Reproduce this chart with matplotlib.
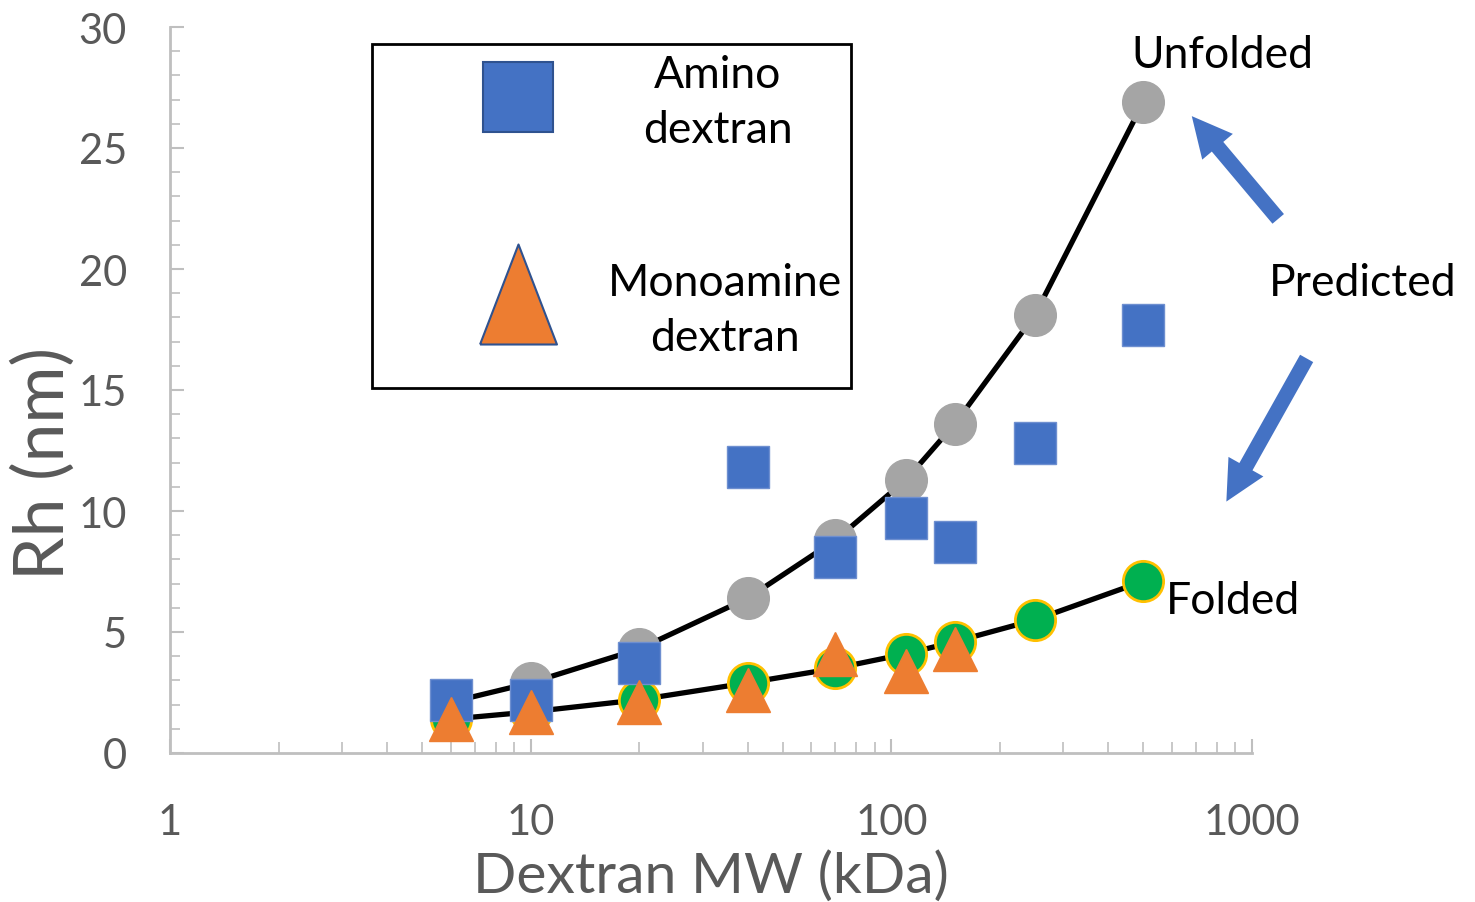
import numpy as np
import matplotlib
matplotlib.use("Agg")
import matplotlib.pyplot as plt
from matplotlib.patches import Rectangle, FancyArrowPatch

plt.rcParams['font.family'] = ['Lato', 'DejaVu Sans']

# Dextran molecular weights (kDa)
mw = [6, 10, 20, 40, 70, 110, 150, 250, 500]
# predicted hydrodynamic radius (nm)
rh_unfolded = [2.1, 2.9, 4.3, 6.4, 8.8, 11.3, 13.6, 18.1, 26.9]
rh_folded = [1.4, 1.7, 2.2, 2.9, 3.5, 4.1, 4.6, 5.5, 7.1]
# measured
mw_amino = [6, 10, 20, 40, 70, 110, 150, 250, 500]
rh_amino = [2.2, 2.2, 3.7, 11.8, 8.1, 9.7, 8.7, 12.8, 17.7]
mw_mono = [6, 10, 20, 40, 70, 110, 150]
rh_mono = [1.4, 1.7, 2.1, 2.6, 4.1, 3.4, 4.3]

xticks = [1, 10, 100, 1000]
xticklabels = ['1', '10', '100', '1000']
yticks = [0, 5, 10, 15, 20, 25, 30]

W, H = 1475, 903
fig = plt.figure(figsize=(W / 100, H / 100), dpi=100)
ax = fig.add_axes([170 / W, 1 - 754 / H, (1252 - 170) / W, (754 - 28) / H])

grey = '#A5A5A5'
green = '#00B050'
gold = '#FFC000'
blue = '#4472C4'
orange = '#ED7D31'
axcol = '#BFBFBF'
txtcol = '#595959'

ax.plot(mw, rh_unfolded, '-', color='black', lw=3.8, zorder=2)
ax.plot(mw, rh_folded, '-', color='black', lw=3.8, zorder=2)
ax.plot(mw, rh_unfolded, 'o', ms=30, color=grey, mec=grey, zorder=3)
ax.plot(mw, rh_folded, 'o', ms=29, color=green, mec=gold, mew=2, zorder=4)
ax.plot(mw_amino, rh_amino, 's', ms=30, color=blue, mec='#6E8FD0', mew=1, zorder=5)
ax.plot(mw_mono, rh_mono, '^', ms=31, color=orange, mec=orange, mew=1, zorder=6)

ax.set_xscale('log')
ax.set_xlim(1, 1000)
ax.set_ylim(0, 30)
ax.set_xticks(xticks)
ax.set_xticklabels(xticklabels)
ax.set_yticks(yticks)
ax.set_yticks(np.arange(0, 31, 1), minor=True)

for s in ['top', 'right']:
    ax.spines[s].set_visible(False)
for s in ['left', 'bottom']:
    ax.spines[s].set_color(axcol)
    ax.spines[s].set_linewidth(2)

ax.tick_params(axis='x', which='major', direction='in', length=10, width=1.5,
               color=axcol, labelsize=30, labelcolor=txtcol, pad=36)
ax.tick_params(axis='x', which='minor', direction='in', length=8, width=1.2,
               color=axcol, labelbottom=False)
ax.tick_params(axis='y', which='major', direction='in', length=10, width=1.5,
               color=axcol, labelsize=30, labelcolor=txtcol, pad=31)
ax.tick_params(axis='y', which='minor', direction='in', length=7, width=1.2,
               color=axcol)

ax.set_xlabel('Dextran MW (kDa)', fontsize=41, color=txtcol)
ax.xaxis.set_label_coords(0.5, (754 - 851) / (754 - 28))
ax.set_ylabel('Rh (nm)', fontsize=50, color=txtcol)
ax.yaxis.set_label_coords((76 - 170) / (1252 - 170), (754 - 464) / (754 - 28))

# legend box drawn by hand
fig.patches.append(Rectangle((372 / W, 1 - 389 / H), (851 - 372) / W, (389 - 45) / H,
                             transform=fig.transFigure, fill=False,
                             edgecolor='black', lw=2, zorder=10))
fig.add_artist(plt.Line2D([518 / W], [1 - 98 / H], marker='s', ms=51,
                          color=blue, mec='#2F528F', mew=1.5, transform=fig.transFigure))
tri = [(-1, -1.3), (1, -1.3), (0, 1.3), (-1, -1.3)]
fig.add_artist(plt.Line2D([518 / W], [1 - 295 / H], marker=tri, ms=72,
                          color=orange, mec='#2F528F', mew=1.5, transform=fig.transFigure))
fig.text(718 / W, 1 - 103 / H, 'Amino\ndextran', fontsize=32, ha='center',
         va='center', linespacing=1.45, multialignment='center')
fig.text(725 / W, 1 - 311 / H, 'Monoamine\ndextran', fontsize=32, ha='center',
         va='center', linespacing=1.45, multialignment='center')

# annotations
fig.text(1222 / W, 1 - 55 / H, 'Unfolded', fontsize=32, ha='center', va='center')
fig.text(1363 / W, 1 - 283 / H, 'Predicted', fontsize=32, ha='center', va='center')
fig.text(1233 / W, 1 - 602 / H, 'Folded', fontsize=32, ha='center', va='center')

arrow_kw = dict(arrowstyle='simple,head_width=1.6,head_length=1.6,tail_width=0.6',
                color=blue, lw=0)
fig.add_artist(FancyArrowPatch(
    (1280 / W, 1 - 222 / H), (1190 / W, 1 - 115 / H), transform=fig.transFigure,
    mutation_scale=18, **arrow_kw))
fig.add_artist(FancyArrowPatch(
    (1308 / W, 1 - 357 / H), (1225 / W, 1 - 505 / H), transform=fig.transFigure,
    mutation_scale=18, **arrow_kw))

fig.savefig('out.png', dpi=100)
